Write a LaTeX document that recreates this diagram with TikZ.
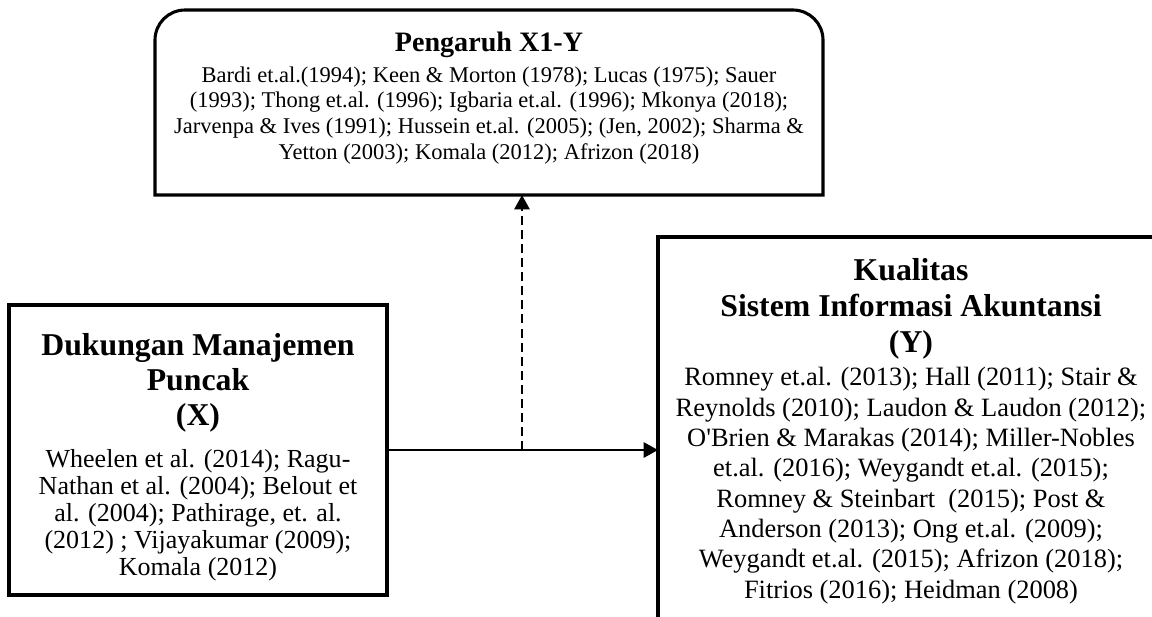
\documentclass[tikz,border=0pt]{standalone}
\usepackage{fontspec}
\setmainfont{Liberation Serif}
\usetikzlibrary{arrows.meta,positioning}

\newcommand{\hdr}[1]{{\fontsize{22.6}{26}\selectfont\bfseries #1}}

\begin{document}
\begin{tikzpicture}[
  box/.style={draw, line width=2.2pt, outer sep=0pt, inner sep=0pt},
  txt/.style={align=center, inner sep=0pt},
  conn/.style={-{Triangle[length=0.36cm,width=0.38cm]}, line width=1.7pt}
]
\useasboundingbox (0,0) rectangle (28.8,-15.4);
\clip (0,0) rectangle (28.8,-15.4);

% === Top: Pengaruh X1-Y ===
\node[outer sep=0pt, inner sep=0pt, minimum width=16.7cm, minimum height=4.625cm] (pengaruh) at (12.225,-2.5625) {};
\draw[line width=2.2pt] (pengaruh.south west) -- ([yshift=-0.75cm]pengaruh.north west)
  arc[start angle=180, end angle=90, radius=0.75cm] -- ([xshift=-0.75cm]pengaruh.north east)
  arc[start angle=90, end angle=0, radius=0.75cm] -- (pengaruh.south east) -- cycle;
\node[txt, font=\fontsize{16}{22}\selectfont] (pengaruhtxt) at (12.225,-2.45) {%
  {\fontsize{20}{22}\selectfont\bfseries Pengaruh X1-Y}\\
  Bardi et.al.(1994); Keen \& Morton (1978); Lucas (1975); Sauer\\[-3.7pt]
  (1993); Thong et.al. (1996); Igbaria et.al. (1996); Mkonya (2018);\\[-3.7pt]
  Jarvenpa \& Ives (1991); Hussein et.al. (2005); (Jen, 2002); Sharma \&\\[-3.7pt]
  Yetton (2003); Komala (2012); Afrizon (2018)};

% === Left: variable X ===
\node[box, minimum width=9.45cm, minimum height=7.25cm] (dukungan) at (4.95,-11.25) {};
\node[txt, font=\fontsize{18.5}{24.9}\selectfont] (dukungantxt) at (4.95,-11.425) {%
  \hdr{Dukungan Manajemen}\\ \hdr{Puncak}\\ \hdr{(X)}\\[5pt]
  Wheelen et al. (2014); Ragu-\\[-5.7pt]
  Nathan et al. (2004); Belout et\\[-5.7pt]
  al. (2004); Pathirage, et. al.\\[-5.7pt]
  (2012) ; Vijayakumar (2009);\\[-5.7pt]
  Komala (2012)};

% === Right: variable Y ===
\node[box, minimum width=12.65cm, minimum height=10.65cm] (kualitas) at (22.775,-11.25) {};
\node[txt, font=\fontsize{18.8}{25.6}\selectfont] (kualitastxt) at (22.775,-10.78) {%
  \hdr{Kualitas}\\ \hdr{Sistem Informasi Akuntansi}\\ \hdr{(Y)}\\[-2.1pt]
  Romney et.al. (2013); Hall (2011); Stair \&\\[-4pt]
  Reynolds (2010); Laudon \& Laudon (2012);\\[-4pt]
  O\textquotesingle Brien \& Marakas (2014); Miller-Nobles\\[-4pt]
  et.al. (2016); Weygandt et.al. (2015);\\[-4pt]
  Romney \& Steinbart\ \ (2015); Post \&\\[-4pt]
  Anderson (2013); Ong et.al. (2009);\\[-4pt]
  Weygandt et.al. (2015); Afrizon (2018);\\[-4pt]
  Fitrios (2016); Heidman (2008)};

% connectors
\coordinate (split) at (13.05,-11.25);
\draw[conn] (dukungan.east) -- (kualitas.west);
\draw[conn, dash pattern=on 6.4pt off 3.6pt] (split) -- (split |- pengaruh.south);

\end{tikzpicture}
\end{document}
